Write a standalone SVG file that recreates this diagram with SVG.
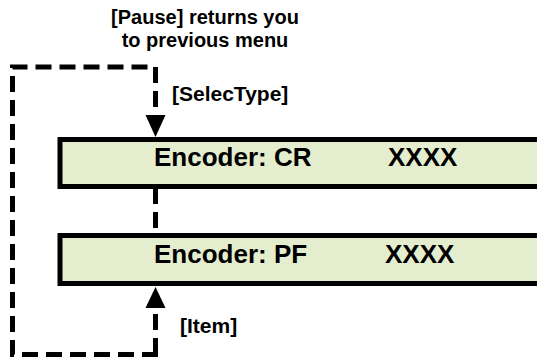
<svg xmlns="http://www.w3.org/2000/svg" width="537" height="358" viewBox="0 0 537 358">
<defs>
<style>
.box{fill:#E4EECE;stroke:#000;stroke-width:5}
.dash{fill:none;stroke:#000;stroke-width:5;stroke-dasharray:16 8}
.t{font-family:"Liberation Sans",Arial,sans-serif;font-weight:bold;fill:#000}
.big{font-size:26px}
.lbl{font-size:21px}
.ttl{font-size:20px}
</style>
</defs>
<rect width="537" height="358" fill="#fff"/>
<g id="connectors">
<path class="dash" d="M155.5,352 L155.5,354.5 L12.5,354.5 L12.5,67 L155.5,67 L155.5,116"/>
<path d="M145.5,115 L165.5,115 L155.5,137 Z" fill="#000"/>
<path class="dash" d="M155.5,188 L155.5,233"/>
<path class="dash" d="M155.5,354 L155.5,308"/>
<path d="M145.5,308 L165.5,308 L155.5,287 Z" fill="#000"/>
</g>
<g id="label-pause">
<text class="t ttl" x="205" y="24" text-anchor="middle">[Pause] returns you</text>
<text class="t ttl" x="205" y="47" text-anchor="middle">to previous menu</text>
</g>
<g id="label-selecttype"><text class="t lbl" x="172" y="101">[SelecType]</text></g>
<g id="label-item"><text class="t lbl" x="180" y="333">[Item]</text></g>
<g id="node-cr">
<rect class="box" x="60" y="139.5" width="490" height="47"/>
<text class="t big" x="154" y="166">Encoder: CR</text>
<text class="t big" x="388" y="166">XXXX</text>
</g>
<g id="node-pf">
<rect class="box" x="60" y="235.5" width="490" height="48"/>
<text class="t big" x="154" y="263">Encoder: PF</text>
<text class="t big" x="385" y="263">XXXX</text>
</g>
</svg>
